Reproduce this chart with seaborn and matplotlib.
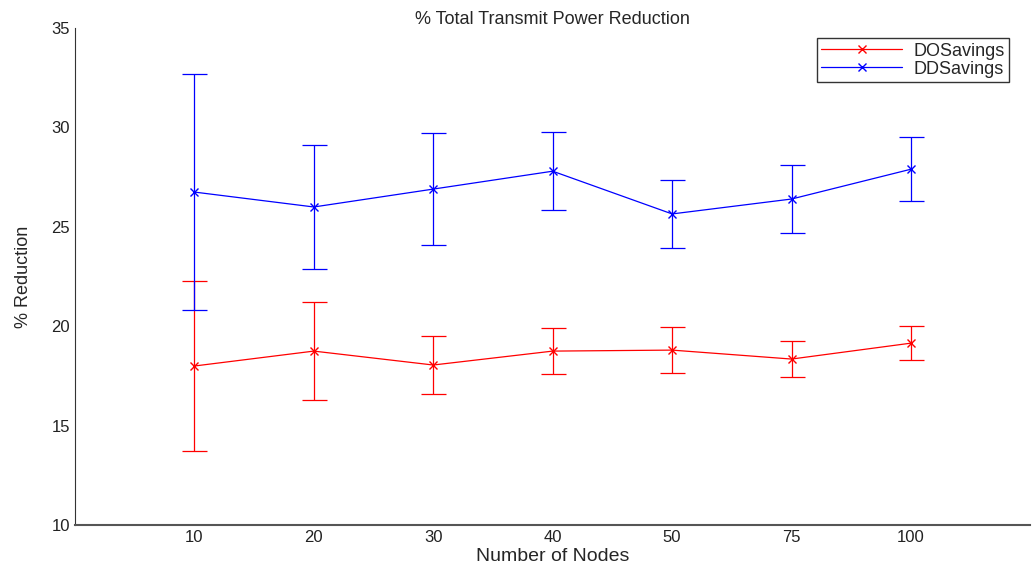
import numpy as np
import pandas as pd
import matplotlib
matplotlib.use("Agg")
import matplotlib.pyplot as plt
import seaborn as sns

nodes = ["10", "20", "30", "40", "50", "75", "100"]
do_mean = [18.0, 18.75, 18.05, 18.75, 18.8, 18.35, 19.15]
do_err = [4.28, 2.45, 1.45, 1.17, 1.17, 0.9, 0.85]
dd_mean = [26.75, 26.0, 26.9, 27.8, 25.65, 26.4, 27.9]
dd_err = [5.95, 3.1, 2.8, 1.95, 1.7, 1.73, 1.6]

sns.set_style("white")
plt.rcParams['font.family'] = ['Liberation Sans', 'DejaVu Sans']

pos = np.arange(1, len(nodes) + 1)
do_df = pd.DataFrame({"pos": pos, "val": do_mean})
dd_df = pd.DataFrame({"pos": pos, "val": dd_mean})

fig = plt.figure(figsize=(10.34, 5.67), dpi=100)
ax = fig.add_axes([0.0725, 0.074, 0.924, 0.8765])

for d, m, e, col, lab in [(do_df, do_mean, do_err, "#ff0000", "DOSavings"),
                          (dd_df, dd_mean, dd_err, "#0000ff", "DDSavings")]:
    sns.lineplot(data=d, x="pos", y="val", color=col, marker="x",
                 markersize=6, markeredgewidth=1.0, markeredgecolor=col,
                 linewidth=0.9, ax=ax, label=lab)
    ax.errorbar(pos, m, yerr=e, fmt="none", ecolor=col,
                elinewidth=0.9, capsize=9, capthick=0.9)

ax.set_xlim(0, 8)
ax.set_ylim(10, 35)
ax.set_xticks(pos)
ax.set_xticklabels(nodes)
ax.set_yticks([10, 15, 20, 25, 30, 35])
ax.tick_params(direction="in", length=4, labelsize=12, colors="#222222")
for s in ["top", "right"]:
    ax.spines[s].set_visible(False)
ax.spines["left"].set_color("#333333")
ax.spines["bottom"].set_color("#555555")
ax.spines["bottom"].set_linewidth(1.5)

ax.set_xlabel("Number of Nodes", fontsize=14, labelpad=2)
ax.set_ylabel("% Reduction", fontsize=13, labelpad=14)
ax.set_title("% Total Transmit Power Reduction", fontsize=13, pad=3)

leg = ax.legend(loc="upper right", fontsize=13, frameon=True, fancybox=False,
                edgecolor="black", borderpad=0.25, handlelength=4.5,
                labelspacing=0.05, handletextpad=0.6,
                bbox_to_anchor=(0.987, 0.998))
leg.get_frame().set_linewidth(1.0)

fig.savefig("out.png", dpi=100)
